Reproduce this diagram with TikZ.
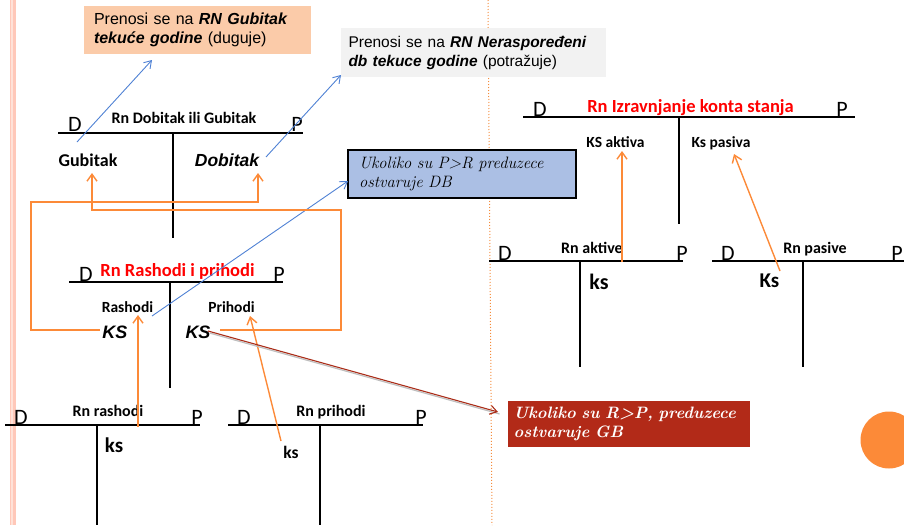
\documentclass[tikz,border=0pt]{standalone}
\usepackage{fontspec}
\newfontfamily\calib{Carlito}
\newfontfamily\arl{Liberation Sans}
\usetikzlibrary{arrows.meta,shadows}
\definecolor{peach}{RGB}{251,203,169}
\definecolor{notegray}{RGB}{242,242,242}
\definecolor{noteblue}{RGB}{171,191,228}
\definecolor{notered}{RGB}{178,42,24}
\definecolor{linered}{RGB}{170,45,25}
\definecolor{lineorange}{RGB}{252,138,56}
\definecolor{lineblue}{RGB}{79,129,212}
\definecolor{stripe}{RGB}{255,200,185}
\definecolor{stripelight}{RGB}{255,226,216}
\definecolor{dotorange}{RGB}{245,140,60}

\begin{document}
\begin{tikzpicture}[x=1pt,y=-1pt,
        tline/.style  = {line width=1.2pt},
        side/.style   = {font=\calib\fontsize{22}{24}\selectfont, anchor=base, inner sep=0pt},
        title/.style  = {font=\calib\bfseries\fontsize{16}{18}\selectfont, anchor=base, inner sep=0pt},
        redtitle/.style = {font=\calib\bfseries\fontsize{18.5}{20}\selectfont, text=red, anchor=base, inner sep=0pt},
        entry/.style  = {font=\calib\bfseries\fontsize{15.5}{17}\selectfont, anchor=base, inner sep=0pt},
        bigks/.style  = {font=\calib\bfseries\fontsize{21}{23}\selectfont, anchor=base, inner sep=0pt},
        ksital/.style = {font=\arl\bfseries\itshape\fontsize{18}{20}\selectfont, anchor=base, inner sep=0pt},
        oarrow/.style = {draw=lineorange, line width=1.4pt, -{Straight Barb[length=7pt,width=10pt]}},
        barrow/.style = {draw=lineblue, line width=0.9pt, -{Straight Barb[length=7pt,width=9pt]}}]
    \clip (0,0) rectangle (904,525);
    \useasboundingbox (0,0) rectangle (904,525);
    % page decoration
    \fill[stripe] (10,0) rectangle (16,525);
    \fill[stripelight] (11,0) rectangle (12.5,525);
    \draw[dotorange, line width=1pt, dotted] (488,0) -- (492,525);
    \fill[lineorange] (889,440) circle (28.5);

    % notes
    \node[fill=peach, minimum width=227, minimum height=48, text width=207, align=left,
          font=\arl\fontsize{16}{19}\selectfont] (gubnote) at (197.5,30)
          {Prenosi se na \textbf{\textit{RN Gubitak}}\\ \textbf{\textit{tekuće godine}} (duguje)};
    \node[fill=notegray, minimum width=265, minimum height=49, text width=250, align=left,
          font=\arl\fontsize{15.5}{19}\selectfont] (dbnote) at (473.5,52.5)
          {Prenosi se na \textbf{\textit{RN Neraspoređeni}}\\ \textbf{\textit{db tekuce godine}} (potražuje)};
    \node[fill=noteblue, draw=black, line width=2.2pt, minimum width=228, minimum height=48,
          text width=206, align=left, font=\itshape\fontsize{16.5}{19}\selectfont] (prnote) at (462,174)
          {Ukoliko su P\textgreater R preduzece\\ ostvaruje DB};
    \node[fill=notered, draw=white, line width=3pt, drop shadow={opacity=0.35}, minimum width=245,
          minimum height=49, text width=230, align=left, text=white,
          font=\bfseries\itshape\fontsize{16.5}{19}\selectfont] (rpnote) at (628.5,423.5)
          {Ukoliko su R\textgreater P, preduzece\\ ostvaruje GB};

    % Rn Dobitak ili Gubitak
    \draw[tline] (58,133) -- (303,133);
    \draw[tline] (173,133) -- (173,238);
    \node[side] (dgD) at (75,131) {D};
    \node[side] (dgP) at (297,131) {P};
    \node[title] (dgT) at (184,123) {Rn Dobitak ili Gubitak};
    \node[font=\calib\bfseries\fontsize{18}{20}\selectfont, anchor=base, inner sep=0pt] (gub) at (88,166) {Gubitak};
    \node[font=\arl\bfseries\itshape\fontsize{17.5}{20}\selectfont, anchor=base, inner sep=0pt] (dob) at (227,166) {Dobitak};

    % Rn Rashodi i prihodi
    \draw[tline] (69,282) -- (283,282);
    \draw[tline] (170,282) -- (170,388);
    \node[side] (rpD) at (86,281) {D};
    \node[side] (rpP) at (279,281) {P};
    \node[redtitle] (rpT) at (177.5,276) {Rn Rashodi i prihodi};
    \node[entry] (rash) at (127.5,312) {Rashodi};
    \node[entry] (prih) at (231.5,312) {Prihodi};
    \node[ksital] (ksL) at (115,338) {KS};
    \node[ksital] (ksR) at (198,338) {KS};

    % Rn rashodi
    \draw[tline] (5,425) -- (200,425);
    \draw[tline] (97,425) -- (97,525);
    \node[side] (raD) at (21,424) {D};
    \node[side] (raP) at (197,424) {P};
    \node[title] (raT) at (108,416) {Rn rashodi};
    \node[bigks] (raks) at (114,452) {ks};

    % Rn prihodi
    \draw[tline] (228,425) -- (423,425);
    \draw[tline] (320,425) -- (320,525);
    \node[side] (prD) at (244,424) {D};
    \node[side] (prP) at (421,424) {P};
    \node[title] (prT) at (331,416) {Rn prihodi};
    \node[font=\calib\bfseries\fontsize{17.5}{19}\selectfont, anchor=base, inner sep=0pt] (prks) at (291,458) {ks};

    % Rn Izravnjanje konta stanja
    \draw[tline] (523,117) -- (855,117);
    \draw[tline] (679,117) -- (679,224);
    \node[side] (izD) at (540,116) {D};
    \node[side] (izP) at (842,116) {P};
    \node[redtitle] (izT) at (690.5,112) {Rn Izravnjanje konta stanja};
    \node[entry] (ksakt) at (615.5,147) {KS aktiva};
    \node[entry] (kspas) at (721,147) {Ks pasiva};

    % Rn aktive
    \draw[tline] (489,261) -- (683,261);
    \draw[tline] (580,261) -- (580,367);
    \node[side] (akD) at (505,260) {D};
    \node[side] (akP) at (682,260) {P};
    \node[title] (akT) at (592,253) {Rn aktive};
    \node[font=\calib\bfseries\fontsize{22}{24}\selectfont, anchor=base, inner sep=0pt] (akks) at (599,289) {ks};

    % Rn pasive
    \draw[tline] (712,261) -- (904,261);
    \draw[tline] (803,261) -- (803,367);
    \node[side] (paD) at (728,260) {D};
    \node[side] (paP) at (897,260) {P};
    \node[title] (paT) at (815,253) {Rn pasive};
    \node[font=\calib\bfseries\fontsize{21}{23}\selectfont, anchor=base, inner sep=0pt] (paks) at (769.5,287) {Ks};

    % connector ends
    \coordinate (gubFrom) at (77,142);
    \coordinate (gubTo) at (152,60);
    \coordinate (dobFrom) at (266,157);
    \coordinate (dobTo) at (341,75);
    \coordinate (rashFrom) at (152,316);
    \coordinate (prTo) at (348,181);
    \coordinate (rashUp) at (138,427);
    \coordinate (rashTip) at (138,315);
    \coordinate (prihUp) at (281,441);
    \coordinate (prihTip) at (250,316);
    \coordinate (aktUp) at (622,262);
    \coordinate (aktTip) at (622,151);
    \coordinate (pasUp) at (780,271);
    \coordinate (pasTip) at (734,154);
    \coordinate (ksLEnd) at (100,330);
    \coordinate (ksREnd) at (220,330);
    \coordinate (ksRFrom) at (208,331);
    \coordinate (rpTo) at (498,412);

    \draw[barrow] (gubFrom) -- (gubTo);
    \draw[barrow] (dobFrom) -- (dobTo);
    \draw[barrow] (rashFrom) -- (prTo);

    \draw[oarrow] (rashUp) -- (rashTip);
    \draw[oarrow] (prihUp) -- (prihTip);
    \draw[oarrow] (aktUp) -- (aktTip);
    \draw[oarrow] (pasUp) -- (pasTip);
    \draw[oarrow] (ksLEnd) -- (31,330) -- (31,202) -- (258,202) -- (258,173);
    \draw[oarrow] (ksREnd) -- (341,330) -- (341,210) -- (92,210) -- (92,173);

    \draw[black!25, line width=1.2pt] ([shift={(1.5,2)}]ksRFrom) -- ([shift={(1.5,2)}]rpTo);
    \draw[linered, line width=1.1pt, -{Straight Barb[length=7pt,width=9pt]}] (ksRFrom) -- (rpTo);
\end{tikzpicture}
\end{document}
